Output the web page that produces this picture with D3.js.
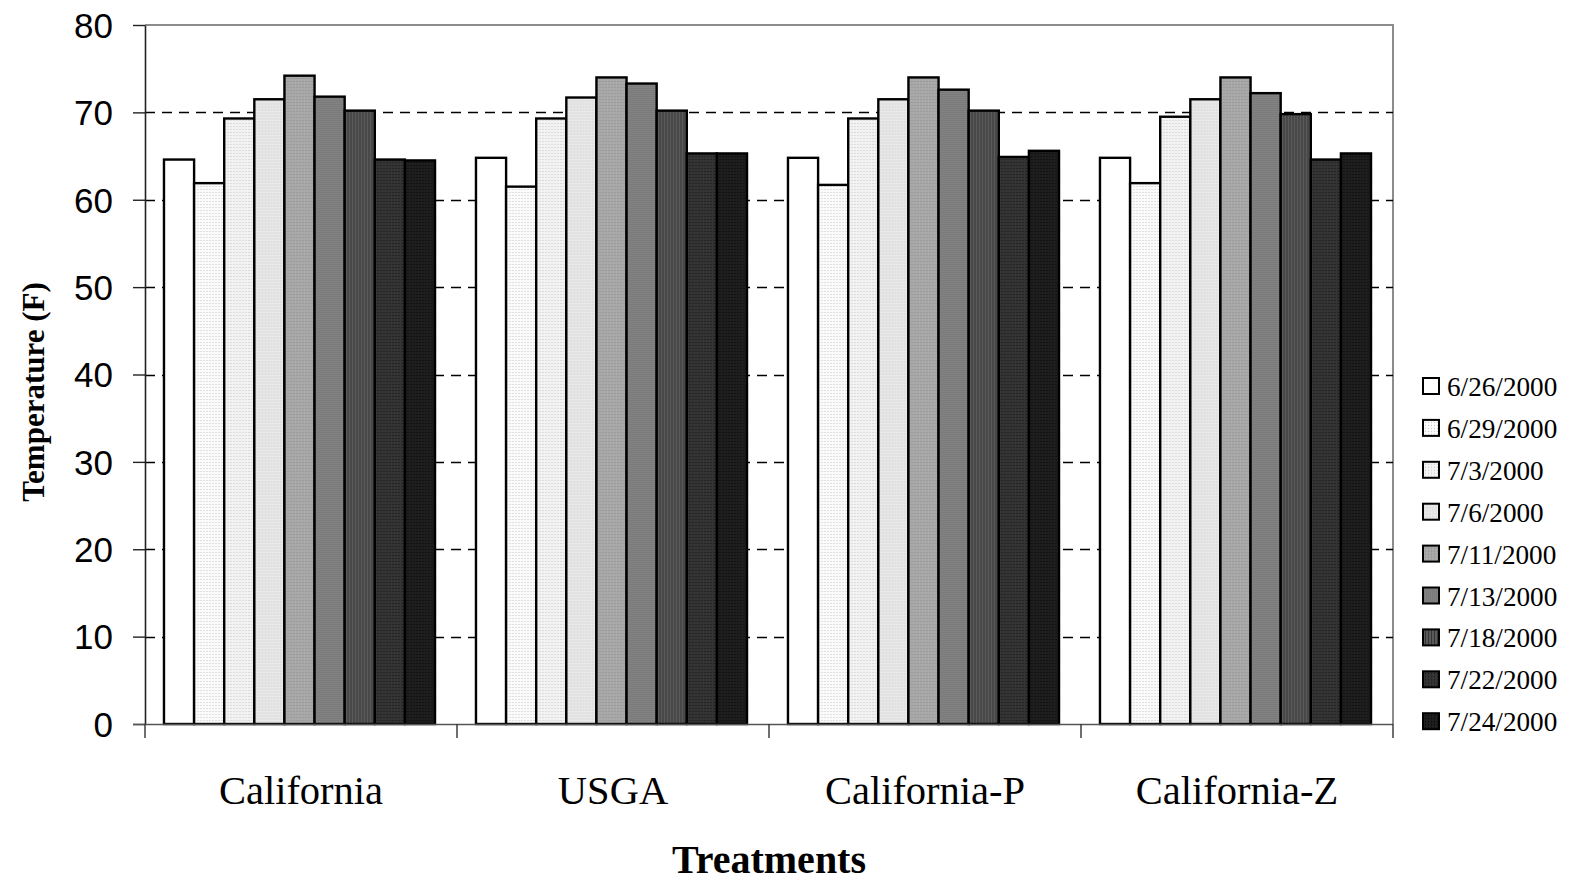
<!DOCTYPE html>
<html>
<head>
<meta charset="utf-8">
<script src="https://cdn.jsdelivr.net/npm/d3@7"></script>
<style>
  html, body { margin: 0; padding: 0; background: #fff; }
  svg { display: block; }
</style>
</head>
<body>
<svg id="chart" width="1569" height="882"></svg>
<script>
// Soil temperature by treatment and sampling date
const treatments = ["California", "USGA", "California-P", "California-Z"];
const dates = ["6/26/2000", "6/29/2000", "7/3/2000", "7/6/2000", "7/11/2000",
               "7/13/2000", "7/18/2000", "7/22/2000", "7/24/2000"];
const californiaTemps  = [64.6, 61.9, 69.3, 71.5, 74.2, 71.8, 70.2, 64.6, 64.5];
const usgaTemps        = [64.8, 61.5, 69.3, 71.7, 74.0, 73.3, 70.2, 65.3, 65.3];
const californiaPTemps = [64.8, 61.7, 69.3, 71.5, 74.0, 72.6, 70.2, 64.9, 65.6];
const californiaZTemps = [64.8, 61.9, 69.5, 71.5, 74.0, 72.2, 69.8, 64.6, 65.3];
const yTicks = [0, 10, 20, 30, 40, 50, 60, 70, 80];

const tempsByTreatment = [californiaTemps, usgaTemps, californiaPTemps, californiaZTemps];

const svg = d3.select("#chart");
const plot = { left: 145, right: 1393, top: 25, bottom: 724 };

const x0 = d3.scaleBand().domain(treatments).range([plot.left, plot.right]);
const x1 = d3.scaleBand().domain(dates).range([0, x0.bandwidth()]).paddingOuter(0.68);
const y = d3.scaleLinear().domain([0, 80]).range([plot.bottom, plot.top]);

// Grey-scale fill patterns, one per sampling date
const fills = [
  { bg: "#ffffff", dot: null },
  { bg: "#fbfbfb", dot: "#c4c4c4", size: 3, kind: "dot" },
  { bg: "#f2f2f2", dot: "#c8c8c8", size: 3, kind: "dot" },
  { bg: "#e2e2e2", dot: "#f4f4f4", size: 3, kind: "dot" },
  { bg: "#a9a9a9", dot: "#8a8a8a", size: 3, kind: "dot" },
  { bg: "#828282", dot: "#747474", size: 2, kind: "dot" },
  { bg: "#5a5a5a", dot: "#353535", size: 3, kind: "vstripe" },
  { bg: "#343434", dot: "#151515", size: 3, kind: "dot" },
  { bg: "#1e1e1e", dot: "#050505", size: 3, kind: "dot" }
];

const defs = svg.append("defs");
fills.forEach((f, i) => {
  if (!f.dot) return;
  const p = defs.append("pattern")
    .attr("id", "fill" + i)
    .attr("patternUnits", "userSpaceOnUse")
    .attr("width", f.size).attr("height", f.size);
  p.append("rect").attr("width", f.size).attr("height", f.size).attr("fill", f.bg);
  if (f.kind === "vstripe") {
    p.append("rect").attr("width", 1).attr("height", f.size).attr("fill", f.dot);
  } else {
    p.append("rect").attr("width", 1).attr("height", 1).attr("fill", f.dot);
  }
});
const fillFor = i => fills[i].dot ? `url(#fill${i})` : fills[i].bg;

// Plot frame (top and right edges)
svg.append("path")
  .attr("d", `M${plot.left},${plot.top}H${plot.right}V${plot.bottom}`)
  .attr("fill", "none").attr("stroke", "#8c8c8c").attr("stroke-width", 2);

// Dashed horizontal gridlines
svg.append("g").selectAll("line")
  .data(yTicks.filter(t => t > 0 && t < 80))
  .join("line")
  .attr("x1", plot.left).attr("x2", plot.right)
  .attr("y1", d => Math.round(y(d)) + 0.5).attr("y2", d => Math.round(y(d)) + 0.5)
  .attr("stroke", "#000").attr("stroke-width", 1.3)
  .attr("stroke-dasharray", "10,7");

// Bars
const groups = svg.append("g").selectAll("g")
  .data(treatments)
  .join("g")
  .attr("transform", d => `translate(${x0(d) - 1.5},0)`);

groups.selectAll("rect")
  .data((d, gi) => tempsByTreatment[gi].map((v, i) => ({ date: dates[i], value: v, i })))
  .join("rect")
  .attr("x", d => x1(d.date))
  .attr("y", d => y(d.value))
  .attr("width", x1.bandwidth())
  .attr("height", d => y(0) - y(d.value))
  .attr("fill", d => fillFor(d.i))
  .attr("stroke", "#000")
  .attr("stroke-width", 2.4);

// Y axis
const yAxis = svg.append("g")
  .attr("transform", `translate(${plot.left},0)`)
  .call(d3.axisLeft(y).tickValues(yTicks).tickSize(12).tickPadding(20).tickSizeOuter(0));
yAxis.select(".domain").attr("stroke", "#222").attr("stroke-width", 1.6);
yAxis.selectAll(".tick line").attr("stroke", "#222").attr("stroke-width", 1.4);
yAxis.selectAll(".tick text")
  .attr("font-family", "'Liberation Sans', Arial, sans-serif")
  .attr("font-size", 35).attr("fill", "#000").attr("dy", "0.35em");

// X axis with ticks at category boundaries
const xAxis = svg.append("g")
  .attr("transform", `translate(0,${plot.bottom})`);
xAxis.append("line")
  .attr("x1", plot.left - 12).attr("x2", plot.right)
  .attr("y1", 0.5).attr("y2", 0.5)
  .attr("stroke", "#555").attr("stroke-width", 1.6);
const boundaries = treatments.map(t => x0(t)).concat([plot.right]);
xAxis.selectAll("line.tick")
  .data(boundaries)
  .join("line")
  .attr("class", "tick")
  .attr("x1", d => d).attr("x2", d => d)
  .attr("y1", 0).attr("y2", 14)
  .attr("stroke", "#333").attr("stroke-width", 1.4);
xAxis.selectAll("text")
  .data(treatments)
  .join("text")
  .attr("x", d => x0(d) + x0.bandwidth() / 2)
  .attr("y", 80)
  .attr("text-anchor", "middle")
  .attr("font-family", "'Liberation Serif', 'Times New Roman', serif")
  .attr("font-size", 40.5)
  .text(d => d);

// Axis titles
svg.append("text")
  .attr("x", (plot.left + plot.right) / 2)
  .attr("y", 873)
  .attr("text-anchor", "middle")
  .attr("font-family", "'Liberation Serif', 'Times New Roman', serif")
  .attr("font-weight", "bold")
  .attr("font-size", 40)
  .text("Treatments");

svg.append("text")
  .attr("transform", "translate(44,392) rotate(-90)")
  .attr("text-anchor", "middle")
  .attr("font-family", "'Liberation Serif', 'Times New Roman', serif")
  .attr("font-weight", "bold")
  .attr("font-size", 31)
  .text("Temperature (F)");

// Legend
const legend = svg.append("g").attr("transform", "translate(1422,377)");
const rows = legend.selectAll("g")
  .data(dates)
  .join("g")
  .attr("transform", (d, i) => `translate(0,${i * 41.9})`);
rows.append("rect")
  .attr("x", 1).attr("y", 1)
  .attr("width", 16).attr("height", 16)
  .attr("fill", (d, i) => fillFor(i))
  .attr("stroke", "#000").attr("stroke-width", 2);
rows.append("text")
  .attr("x", 25).attr("y", 19)
  .attr("font-family", "'Liberation Serif', 'Times New Roman', serif")
  .attr("font-size", 27.2)
  .text(d => d);
</script>
</body>
</html>
